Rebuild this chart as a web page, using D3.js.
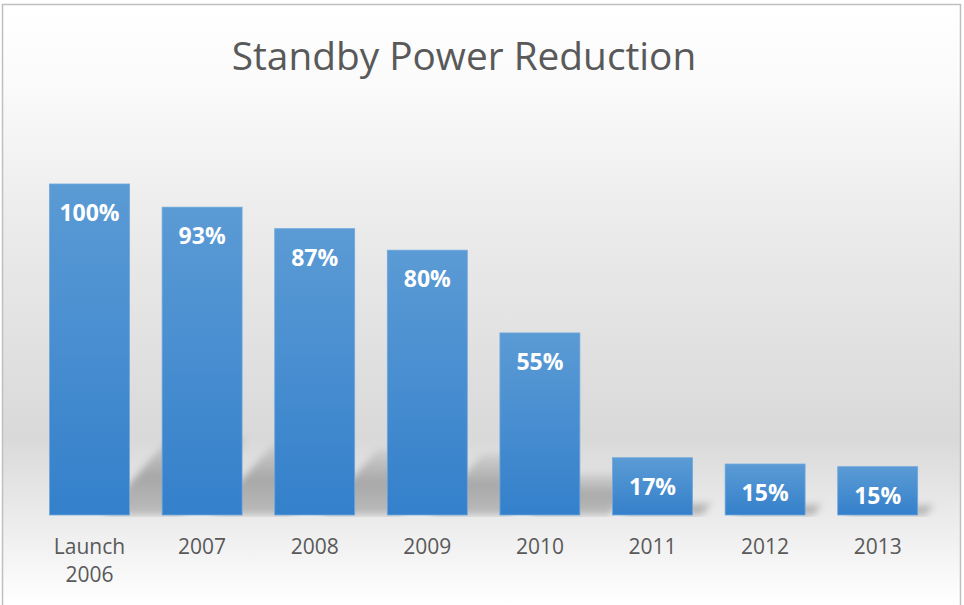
<!DOCTYPE html>
<html>
<head>
<meta charset="utf-8">
<script src="https://cdn.jsdelivr.net/npm/d3@7"></script>
<style>
  body { margin: 0; background: #fff; }
  svg { display: block; }
</style>
</head>
<body>
<div id="chart"></div>
<script>
(function () {
  "use strict";

  // data
  let categories = ['Launch 2006', '2007', '2008', '2009', '2010', '2011', '2012', '2013']
  let values = [100, 93, 86.5, 80, 55, 17.3, 15.4, 14.6]
  let title = 'Standby Power Reduction'

  let width = 964, height = 605
  let base = 515

  let svg = d3.select('#chart').append('svg')
    .attr('width', width)
    .attr('height', height)

  let defs = svg.append('defs')

  // chart area background: light at top and bottom, grey band above the axis
  let bg = defs.append('linearGradient')
    .attr('id', 'bg')
    .attr('gradientUnits', 'userSpaceOnUse')
    .attr('x1', 0).attr('y1', 5).attr('x2', 0).attr('y2', 605)
  ;[[0, '#ffffff'], [0.12, '#fbfbfb'], [0.35, '#ececec'], [0.72, '#d9d9d9'], [1, '#ffffff']]
    .forEach(function(s){
      bg.append('stop').attr('offset', s[0]).attr('stop-color', s[1])
    })

  let barGrad = defs.append('linearGradient')
    .attr('id', 'barGrad')
    .attr('x1', 0).attr('y1', 0).attr('x2', 0).attr('y2', 1)
  barGrad.append('stop').attr('offset', 0).attr('stop-color', '#5b9bd5')
  barGrad.append('stop').attr('offset', 1).attr('stop-color', '#3480cb')

  let shadowGrad = defs.append('linearGradient')
    .attr('id', 'shadowGrad')
    .attr('x1', 0).attr('y1', 0).attr('x2', 0).attr('y2', 1)
  shadowGrad.append('stop').attr('offset', 0).attr('stop-color', '#000').attr('stop-opacity', 0.06)
  shadowGrad.append('stop').attr('offset', 0.5).attr('stop-color', '#000').attr('stop-opacity', 0.26)
  shadowGrad.append('stop').attr('offset', 1).attr('stop-color', '#000').attr('stop-opacity', 0.2)

  defs.append('filter')
    .attr('id', 'blur')
    .attr('x', '-50%').attr('y', '-50%').attr('width', '200%').attr('height', '200%')
    .append('feGaussianBlur').attr('stdDeviation', 3.5)

  defs.append('clipPath').attr('id', 'aboveBase')
    .append('rect').attr('x', 0).attr('y', 0).attr('width', width).attr('height', base + 2)

  svg.append('rect')
    .attr('x', 2.5).attr('y', 4.5)
    .attr('width', 958).attr('height', 620)
    .attr('fill', 'url(#bg)')
    .attr('stroke', '#bfbfbf')
    .attr('stroke-width', 1.5)

  let x = d3.scaleBand()
    .domain(categories)
    .range([33.2, 934])
    .paddingInner(0.29)
    .paddingOuter(0.145)

  let y = d3.scaleLinear()
    .domain([0, 100])
    .range([base, 184])

  svg.append('text')
    .attr('x', 464)
    .attr('y', 70)
    .attr('text-anchor', 'middle')
    .style('font-family', '"Open Sans", sans-serif')
    .style('font-size', '38.8px')
    .style('fill', '#595959')
    .text(title)

  // perspective shadows, skewed up to the right behind each bar
  svg.append('g')
    .attr('clip-path', 'url(#aboveBase)')
    .selectAll('path')
    .data(values)
    .enter().append('path')
      .attr('d', function(d, i){
        let x0 = x(categories[i]), x1 = x0 + x.bandwidth()
        let h = base - y(d)
        let off = 0.16 * h, sk = 0.2 * h, sh = 0.23 * h
        return 'M' + (x0 + off) + ',' + base +
          'L' + (x1 + off) + ',' + base +
          'L' + (x1 + off + sk) + ',' + (base - sh) +
          'L' + (x0 + off + sk) + ',' + (base - sh) + 'Z'
      })
      .attr('fill', 'url(#shadowGrad)')
      .attr('filter', 'url(#blur)')

  let bars = svg.append('g')

  bars.selectAll('rect')
    .data(values)
    .enter().append('rect')
      .attr('x', function(d, i){ return x(categories[i]) })
      .attr('y', function(d){ return y(d) })
      .attr('width', x.bandwidth())
      .attr('height', function(d){ return base - y(d) })
      .attr('fill', 'url(#barGrad)')
      .attr('stroke', '#6fa7dc')
      .attr('stroke-width', 0.8)

  bars.selectAll('text')
    .data(values)
    .enter().append('text')
      .attr('x', function(d, i){ return x(categories[i]) + x.bandwidth() / 2 })
      .attr('y', function(d){ return y(d) + 37 })
      .attr('text-anchor', 'middle')
      .style('font-family', '"Open Sans", sans-serif')
      .style('font-weight', 'bold')
      .style('font-size', '23px')
      .style('fill', '#ffffff')
      .text(function(d){ return Math.round(d) + '%' })

  let axis = svg.append('g')
    .attr('transform', 'translate(0,' + base + ')')
    .call(d3.axisBottom(x).tickSize(0))

  axis.select('.domain').remove()
  axis.selectAll('.tick text').each(function(d){
    let t = d3.select(this)
    t.text(null).attr('dy', null).attr('y', 39)
      .style('font-family', '"Open Sans", sans-serif')
      .style('font-size', '21px')
      .style('fill', '#595959')
    d.split(' ').forEach(function(line, j){
      t.append('tspan').attr('x', 0).attr('y', 39 + j * 28).text(line)
    })
  })
  axis.attr('font-family', null).attr('font-size', null)

}());
</script>
</body>
</html>
